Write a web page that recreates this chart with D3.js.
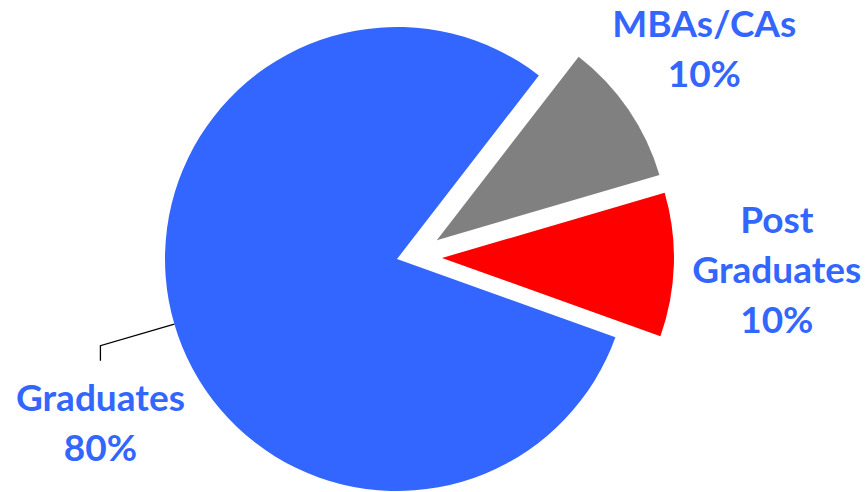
<!DOCTYPE html>
<html>
<head>
<meta charset="utf-8">
<script src="https://cdn.jsdelivr.net/npm/d3@7"></script>
<style>
  html, body { margin: 0; padding: 0; background: #ffffff; }
  svg { display: block; }
  .lbl { font-family: Lato, "Open Sans", sans-serif; font-weight: 700; fill: #3366ff; }
</style>
</head>
<body>
<svg id="chart" width="867" height="492"></svg>
<script>
// Qualification mix, percent of total
const categories = ["MBAs/CAs", "Post Graduates", "Graduates"];
const shares = [10, 10, 80];
const labelLines = [["MBAs/CAs"], ["Post", "Graduates"], ["Graduates"]];
const colors = ["#808080", "#ff0000", "#3366ff"];

// Layout settings
const W = 867, H = 492;
const cx = 397, cy = 259, radius = 232;
const startDeg = 37.7;
const explodeDist = [44, 45, 0];     // how far each slice is pulled out
const explodeTurn = [9, -3, 0];      // tweak of the pull direction, degrees
const labelRadius = [372, 380, 309];
const lineGap = 50;
const fontSize = 37;

const rad = d => d * Math.PI / 180;
const svg = d3.select("#chart");
const g = svg.append("g").attr("transform", `translate(${cx},${cy})`);

const pie = d3.pie().sort(null).value(d => d.v)
  .startAngle(rad(startDeg)).endAngle(rad(startDeg) + 2 * Math.PI);
const data = categories.map((c, i) => ({ c, v: shares[i], i }));
const arcs = pie(data);
const arc = d3.arc().innerRadius(0).outerRadius(radius);

const polar = (a, r) => [r * Math.sin(a), -r * Math.cos(a)];

g.selectAll("path.slice").data(arcs).join("path")
  .attr("class", "slice")
  .attr("fill", d => colors[d.data.i])
  .attr("transform", d => {
    const mid = (d.startAngle + d.endAngle) / 2 + rad(explodeTurn[d.data.i]);
    const [dx, dy] = polar(mid, explodeDist[d.data.i]);
    return `translate(${dx},${dy})`;
  })
  .attr("d", arc);

arcs.forEach(d => {
  const i = d.data.i;
  const mid = (d.startAngle + d.endAngle) / 2;
  const [px, py] = polar(mid, labelRadius[i]);
  const lines = labelLines[i].concat([d.data.v + "%"]);
  if (i === 2) {
    // leader line with an elbow, label hangs below it
    const [ex, ey] = polar(mid, radius);
    const drop = 15;
    g.append("polyline")
      .attr("points", `${ex},${ey} ${px},${py} ${px},${py + drop}`)
      .attr("fill", "none").attr("stroke", "#000").attr("stroke-width", 1.3);
    const t = g.append("text").attr("class", "lbl")
      .attr("text-anchor", "middle").attr("font-size", fontSize);
    lines.forEach((s, k) => {
      t.append("tspan").attr("x", px).attr("y", py + drop + lineGap + k * lineGap).text(s);
    });
  } else {
    const t = g.append("text").attr("class", "lbl")
      .attr("text-anchor", "middle").attr("font-size", fontSize);
    const n = lines.length;
    lines.forEach((s, k) => {
      t.append("tspan").attr("x", px)
        .attr("y", py + (k - (n - 1) / 2) * lineGap + 13).text(s);
    });
  }
});
</script>
</body>
</html>
